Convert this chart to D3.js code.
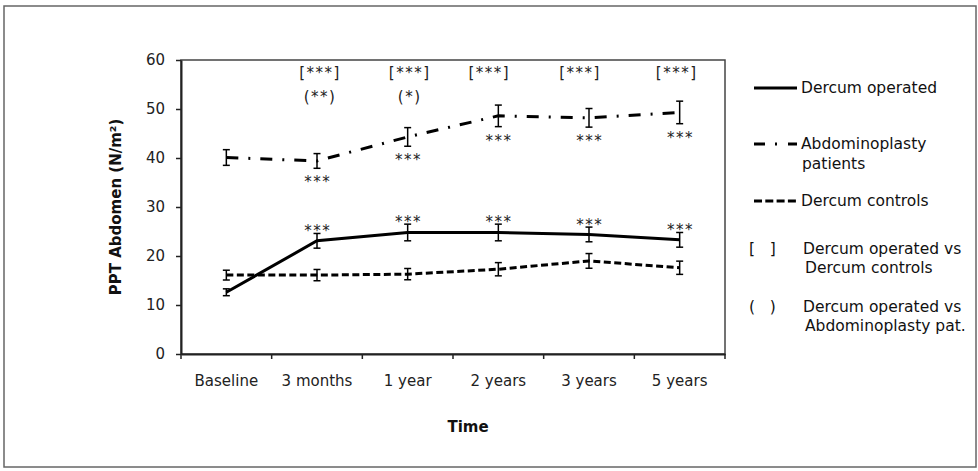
<!DOCTYPE html>
<html>
<head>
<meta charset="utf-8">
<script src="https://cdn.jsdelivr.net/npm/d3@7/dist/d3.min.js"></script>
<style>
  html, body { margin: 0; padding: 0; background: #fff; }
  svg { display: block; font-family: "DejaVu Sans", Verdana, sans-serif; }
</style>
</head>
<body>
<svg id="chart" width="978" height="471"></svg>
<script>
// ---------- data ----------
const categories = ["Baseline", "3 months", "1 year", "2 years", "3 years", "5 years"];
const dercumOperated      = [12.6, 23.1, 24.8, 24.8, 24.4, 23.3];
const dercumOperatedErr   = [0.7, 1.5, 1.7, 1.7, 1.5, 1.5];
const abdominoplasty      = [40.1, 39.4, 44.3, 48.6, 48.2, 49.3];
const abdominoplastyErr   = [1.6, 1.5, 1.9, 2.2, 1.9, 2.3];
const dercumControls      = [16.1, 16.1, 16.3, 17.3, 19.0, 17.6];
const dercumControlsErr   = [1.0, 1.15, 1.15, 1.35, 1.5, 1.35];
const yTicks = [0, 10, 20, 30, 40, 50, 60];
const sigOperated        = ["", "***", "***", "***", "***", "***"];
const sigAbdominoplasty  = ["", "***", "***", "***", "***", "***"];
const sigOperatedVsControls = ["", "[***]", "[***]", "[***]", "[***]", "[***]"];
const sigOperatedVsAbdo     = ["", "(**)", "(*)", "", "", ""];
const legendLines = [
  ["Dercum operated"],
  ["Abdominoplasty", "patients"],
  ["Dercum controls"]
];
const legendNotes = [
  ["[   ]", "Dercum operated vs", "Dercum controls"],
  ["(   )", "Dercum operated vs", "Abdominoplasty pat."]
];
const yTitle = "PPT Abdomen (N/m²)";
const xTitle = "Time";

// ---------- layout ----------
const svg = d3.select("#chart");
const L = 181, R = 725, T = 60, B = 354;
const x = d3.scaleBand().domain(categories).range([L, R]).padding(0);
const y = d3.scaleLinear().domain([0, 60]).range([B, T]);
const cx = d => x(d) + x.bandwidth() / 2;
const bracketDx = [0, 3, 2, -9, -9, -3];

// outer frame
svg.append("rect").attr("x", 4).attr("y", 6).attr("width", 972).attr("height", 461)
  .attr("fill", "none").attr("stroke", "#666").attr("stroke-width", 1.5);

// plot frame (top/right)
svg.append("rect").attr("x", L).attr("y", T).attr("width", R - L).attr("height", B - T)
  .attr("fill", "none").attr("stroke", "#444").attr("stroke-width", 1.5);

// y axis
const gy = svg.append("g").attr("transform", `translate(${L},0)`)
  .call(d3.axisLeft(y).tickValues(yTicks).tickSize(5).tickSizeOuter(0).tickPadding(11));
gy.attr("font-family", null).attr("font-size", 15);
gy.select(".domain").attr("stroke", "#222").attr("stroke-width", 2);
gy.selectAll(".tick line").attr("stroke", "#222").attr("stroke-width", 1.5);
gy.selectAll("text").attr("fill", "#222");

// x axis (labels centred in bands, ticks on band boundaries)
const gx = svg.append("g").attr("transform", `translate(0,${B})`)
  .call(d3.axisBottom(x).tickSize(0).tickSizeOuter(0).tickPadding(21));
gx.attr("font-family", null).attr("font-size", 15);
gx.select(".domain").attr("stroke", "#222").attr("stroke-width", 2);
gx.selectAll("text").attr("fill", "#222");
const bounds = categories.map(d => x(d)).concat([x.range()[1]]);
gx.selectAll(".bt").data(bounds).join("line").attr("class", "bt")
  .attr("x1", d => d).attr("x2", d => d).attr("y1", 0).attr("y2", 5)
  .attr("stroke", "#222").attr("stroke-width", 1.5);

// axis titles
svg.append("text").attr("transform", `translate(121,${(T + B) / 2}) rotate(-90)`)
  .attr("text-anchor", "middle").attr("font-size", 15).attr("font-weight", "bold")
  .attr("fill", "#111").text(yTitle);
svg.append("text").attr("x", 468).attr("y", 432).attr("text-anchor", "middle")
  .attr("font-size", 15).attr("font-weight", "bold").attr("fill", "#111").text(xTitle);

// series
const series = [
  { vals: dercumOperated, err: dercumOperatedErr, dash: null },
  { vals: abdominoplasty, err: abdominoplastyErr, dash: "12,10,2,10" },
  { vals: dercumControls, err: dercumControlsErr, dash: "7,3.5" }
];
const line = d3.line().x((v, i) => cx(categories[i])).y(v => y(v));
series.forEach(s => {
  svg.append("path").attr("d", line(s.vals)).attr("fill", "none")
    .attr("stroke", "#000").attr("stroke-width", 3)
    .attr("stroke-dasharray", s.dash);
  const eb = svg.append("g").attr("stroke", "#000").attr("stroke-width", 1.5);
  s.vals.forEach((v, i) => {
    const xc = cx(categories[i]);
    const y1 = y(v + s.err[i]), y2 = y(v - s.err[i]);
    eb.append("line").attr("x1", xc).attr("x2", xc).attr("y1", y1).attr("y2", y2);
    eb.append("line").attr("x1", xc - 3.5).attr("x2", xc + 3.5).attr("y1", y1).attr("y2", y1);
    eb.append("line").attr("x1", xc - 3.5).attr("x2", xc + 3.5).attr("y1", y2).attr("y2", y2);
  });
});

// significance annotations
const annFont = (sel) => sel.attr("font-size", 15).attr("fill", "#222")
  .attr("letter-spacing", 1.5).attr("text-anchor", "middle");
categories.forEach((c, i) => {
  if (sigOperated[i]) annFont(svg.append("text"))
    .attr("x", cx(c) + 0.75).attr("y", y(dercumOperated[i] + dercumOperatedErr[i]) + 3)
    .text(sigOperated[i]);
  if (sigAbdominoplasty[i]) annFont(svg.append("text"))
    .attr("x", cx(c) + 0.75).attr("y", y(abdominoplasty[i] - abdominoplastyErr[i]) + 19)
    .text(sigAbdominoplasty[i]);
  if (sigOperatedVsControls[i]) annFont(svg.append("text"))
    .attr("x", cx(c) + bracketDx[i]).attr("y", T + 18)
    .text(sigOperatedVsControls[i]);
  if (sigOperatedVsAbdo[i]) annFont(svg.append("text"))
    .attr("x", cx(c) + bracketDx[i]).attr("y", T + 41.5)
    .text(sigOperatedVsAbdo[i]);
});

// legend
const lg = svg.append("g").attr("font-size", 15.5).attr("fill", "#111");
const legY = [88, 144, 201];
legendLines.forEach((lines, i) => {
  lg.append("line").attr("x1", 754).attr("x2", 797).attr("y1", legY[i]).attr("y2", legY[i])
    .attr("stroke", "#000").attr("stroke-width", 3)
    .attr("stroke-dasharray", i === 1 ? "11,10,2,11" : (i === 2 ? "8,3.3" : null));
  lines.forEach((t, j) => {
    lg.append("text").attr("x", 801 + (j ? 1 : 0)).attr("y", legY[i] + 5 + j * 20).text(t);
  });
});
const noteY = [249, 307];
legendNotes.forEach((n, i) => {
  lg.append("text").attr("x", 749).attr("y", noteY[i] + 5)
    .style("white-space", "pre").text(n[0]);
  lg.append("text").attr("x", 803).attr("y", noteY[i] + 5).text(n[1]);
  lg.append("text").attr("x", 805).attr("y", noteY[i] + 5 + 19).text(n[2]);
});
</script>
</body>
</html>
